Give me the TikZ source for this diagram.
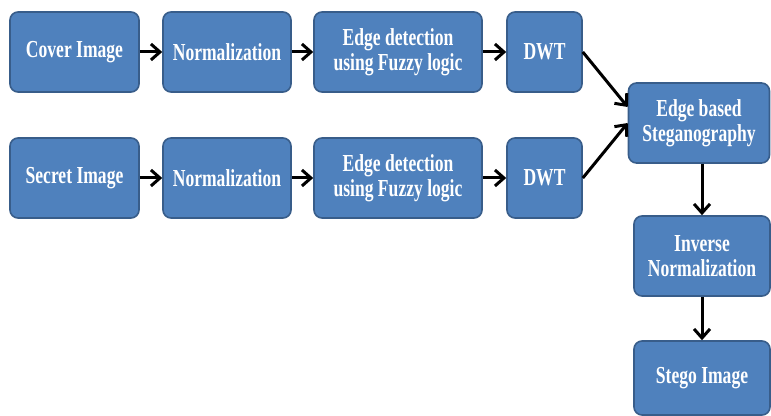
\documentclass[tikz,border=0pt]{standalone}
\usepackage{fontspec}
\usepackage{tikz}
\usetikzlibrary{arrows.meta}
\usepackage{xcolor}
\newfontfamily\boxfont[FakeStretch=0.72]{Liberation Serif}
\definecolor{boxblue}{RGB}{79,129,189}
\definecolor{boxline}{RGB}{56,93,138}

\begin{document}
\begin{tikzpicture}[x=0.5pt,y=-0.5pt,>={Straight Barb[length=4.5pt,width=8pt]},
	blk/.style={fill=boxblue, draw=boxline, line width=0.8pt, rounded corners=4pt,
		minimum height=40pt, align=center, text=white, inner sep=1pt,
		font=\boxfont\bfseries\fontsize{12.2}{12.5}\selectfont}]
	\useasboundingbox (0,0) rectangle (771,416);
	% top row
	\node[blk, minimum width=64.5pt] (cover) at (74.5,52) {Cover Image};
	\node[blk, minimum width=64pt] (norma) at (227,52) {Normalization};
	\node[blk, minimum width=84pt] (edgea) at (398,52) {Edge detection\\using Fuzzy logic};
	\node[blk, minimum width=37.5pt] (dwta) at (544.5,52) {DWT};
	% bottom row
	\node[blk, minimum width=64.5pt] (secret) at (74.5,178) {Secret Image};
	\node[blk, minimum width=64pt] (normb) at (227,178) {Normalization};
	\node[blk, minimum width=84pt] (edgeb) at (398,178) {Edge detection\\using Fuzzy logic};
	\node[blk, minimum width=37.5pt] (dwtb) at (544.5,178) {DWT};
	% right column
	\node[blk, minimum width=70.5pt] (steg) at (699,123) {Edge based\\Steganography};
	\node[blk, minimum width=68pt] (inorm) at (702,256) {Inverse\\Normalization};
	\node[blk, minimum width=68pt, minimum height=37pt] (stego) at (702,378) {Stego Image};

\draw[line width=1.5pt,->] (cover) -- (norma);
\draw[line width=1.5pt,->] (norma) -- (edgea);
\draw[line width=1.5pt,->] (edgea) -- (dwta);
\draw[line width=1.5pt,->] (secret) -- (normb);
\draw[line width=1.5pt,->] (normb) -- (edgeb);
\draw[line width=1.5pt,->] (edgeb) -- (dwtb);
\draw[line width=1.5pt,->] (dwta.east) -- ([yshift=8pt]steg.west);
\draw[line width=1.5pt,->] (dwtb.east) -- (steg.west);
\draw[line width=1.5pt,->] (inorm.north |- steg.south) -- (inorm.north);
\draw[line width=1.5pt,->] (inorm) -- (stego);
\end{tikzpicture}
\end{document}
